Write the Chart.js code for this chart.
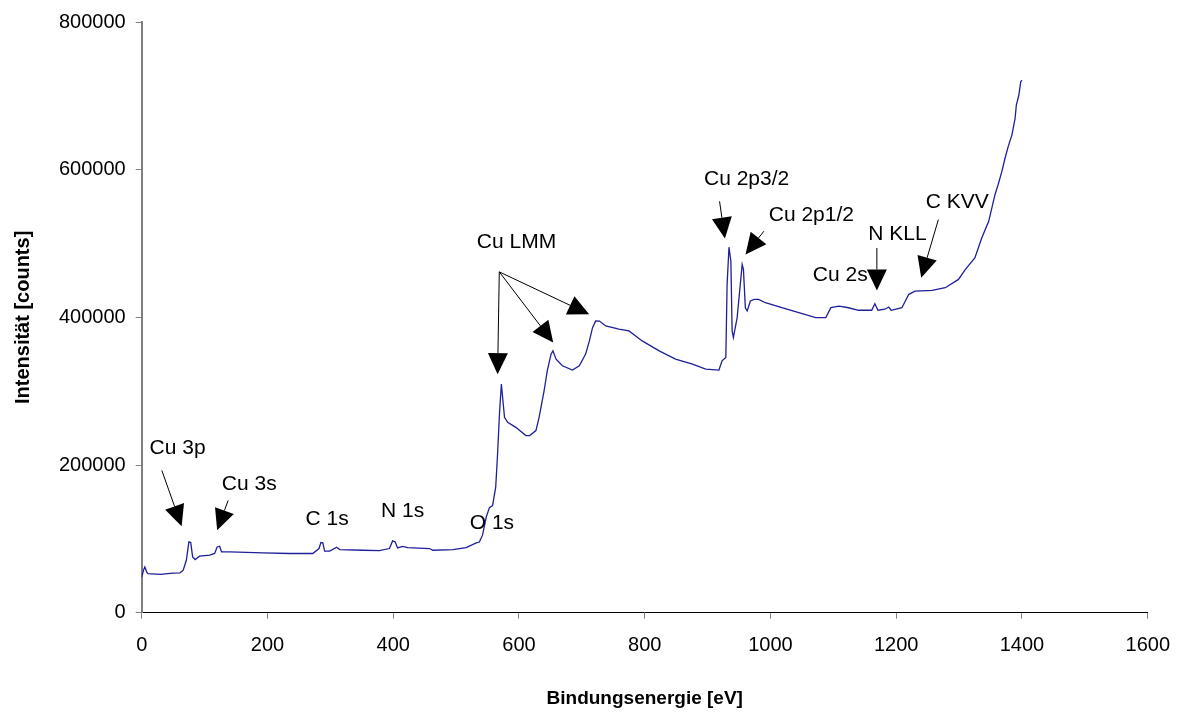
<!DOCTYPE html>
<html>
<head>
<meta charset="utf-8">
<script src="https://cdn.jsdelivr.net/npm/chart.js@4"></script>
<style>
  html, body { margin: 0; padding: 0; background: #fff; }
  #wrap { width: 1185px; height: 718px; }
</style>
</head>
<body>
<div id="wrap"><canvas id="xps"></canvas></div>
<script>
/* ---------- Spektrum ---------- */
const energy = [
  0, 3, 5, 8, 10, 30, 49, 61, 66, 71, 75, 78, 81, 85, 92, 108, 116, 120, 124, 127,
  140, 193, 235, 272, 282, 285, 288, 291, 299, 310, 315, 352, 378, 394, 399, 403, 407, 415, 423, 458,
  463, 495, 516, 532, 537, 542, 548, 553, 558, 563, 566, 569, 572, 577, 582, 595, 611, 617, 627, 632,
  640, 645, 651, 654, 659, 669, 685, 696, 706, 712, 717, 722, 728, 738, 759, 775, 796, 823, 849, 876,
  897, 918, 923, 929, 931, 934, 937, 939, 941, 947, 952, 955, 957, 960, 963, 968, 974, 981, 992, 1018,
  1045, 1072, 1088, 1096, 1109, 1124, 1140, 1161, 1166, 1171, 1182, 1188, 1192, 1209, 1220, 1230, 1257, 1278, 1299, 1310,
  1325, 1336, 1347, 1352, 1357, 1362, 1368, 1373, 1378, 1384, 1389, 1391, 1395, 1398, 1400
];
const counts = [
  48000, 58000, 62000, 55000, 53000, 52000, 53500, 54000, 57600, 71000, 95800, 95000, 75600, 72000, 76500, 77900, 80200, 89000, 90000, 82300,
  82300, 81000, 80200, 80200, 86900, 95000, 94500, 83300, 83500, 88700, 85500, 84600, 84200, 86900, 97200, 96000, 87700, 89800, 88100, 86900,
  84600, 85500, 88100, 94600, 95700, 105000, 129600, 142300, 145000, 170100, 215200, 269600, 309700, 264600, 257800, 251000, 239900, 240000, 246600, 264600,
  300600, 327600, 350200, 354600, 343400, 334400, 328600, 334400, 350200, 368100, 386000, 395100, 395000, 388400, 384000, 381600, 368100, 354600, 343400, 336700,
  330000, 328600, 341100, 345600, 444600, 495000, 476000, 381600, 372600, 399600, 445000, 471600, 465000, 413000, 408600, 422100, 424400, 424400, 419800, 413100,
  406300, 399600, 399600, 413100, 415300, 413000, 409600, 409600, 418500, 409600, 411000, 414000, 409600, 413000, 431200, 435600, 436500, 440100, 451400, 464900,
  480500, 507500, 530000, 548000, 566100, 579600, 597600, 615500, 631300, 647100, 669500, 687600, 701100, 719100, 721400
];

const xTicks = [0, 200, 400, 600, 800, 1000, 1200, 1400, 1600];
const yTicks = [0, 200000, 400000, 600000, 800000];

/* ---------- Beschriftungen (in Datenkoordinaten) ---------- */
const peakLabels = [
  { text: "Cu 3p",    x: 57,   y: 223000 },
  { text: "Cu 3s",    x: 171,  y: 173400 },
  { text: "C 1s",     x: 295,  y: 126200 },
  { text: "N 1s",     x: 415,  y: 138000 },
  { text: "O 1s",     x: 557,  y: 121800 },
  { text: "Cu LMM",   x: 596,  y: 501600 },
  { text: "Cu 2p3/2", x: 962,  y: 587400 },
  { text: "Cu 2p1/2", x: 1065, y: 537900 },
  { text: "Cu 2s",    x: 1111, y: 456900 },
  { text: "N KLL",    x: 1202, y: 513200 },
  { text: "C KVV",    x: 1297, y: 556400 }
];

const peakArrows = [
  { x0: 32,   y0: 192700, x1: 63.5,  y1: 117100 },
  { x0: 137.5, y0: 152100, x1: 120,  y1: 111600 },
  { x0: 568.7, y0: 461600, x1: 566,  y1: 323100 },
  { x0: 568.7, y0: 461600, x1: 654.4, y1: 365800 },
  { x0: 568.7, y0: 461600, x1: 711.6, y1: 404100 },
  { x0: 919,  y0: 557100, x1: 927.5, y1: 506700 },
  { x0: 989.4, y0: 516600, x1: 960.3, y1: 485100 },
  { x0: 1169.2, y0: 494000, x1: 1169.2, y1: 436500 },
  { x0: 1267, y0: 532400, x1: 1239.7, y1: 453500 }
];

const FONT = "'Liberation Sans', Arial, sans-serif";

const peakLabelPlugin = {
  id: 'peakLabels',
  afterDatasetsDraw(chart) {
    const { ctx, scales } = chart;
    const x = scales.x, y = scales.y;
    ctx.save();
    ctx.strokeStyle = '#000';
    ctx.fillStyle = '#000';
    ctx.lineWidth = 1;

    // Pfeile
    const headLen = 21, headHalf = 10;
    peakArrows.forEach(a => {
      const sx = x.getPixelForValue(a.x0), sy = y.getPixelForValue(a.y0);
      const tx = x.getPixelForValue(a.x1), ty = y.getPixelForValue(a.y1);
      const len = Math.hypot(tx - sx, ty - sy);
      const ux = (tx - sx) / len, uy = (ty - sy) / len;
      const bx = tx - ux * headLen, by = ty - uy * headLen;

      ctx.beginPath();
      ctx.moveTo(sx, sy);
      ctx.lineTo(bx, by);
      ctx.stroke();

      ctx.beginPath();
      ctx.moveTo(tx, ty);
      ctx.lineTo(bx - uy * headHalf, by + ux * headHalf);
      ctx.lineTo(bx + uy * headHalf, by - ux * headHalf);
      ctx.closePath();
      ctx.fill();
    });

    // Texte
    ctx.font = '21px ' + FONT;
    ctx.textAlign = 'center';
    ctx.textBaseline = 'middle';
    peakLabels.forEach(l => {
      ctx.fillText(l.text, x.getPixelForValue(l.x), y.getPixelForValue(l.y));
    });
    ctx.restore();
  }
};

new Chart(document.getElementById('xps'), {
  type: 'line',
  data: {
    datasets: [{
      data: energy.map((e, i) => ({ x: e, y: counts[i] })),
      borderColor: '#1f1f99',
      borderWidth: 1.3,
      pointRadius: 0,
      tension: 0,
      fill: false
    }]
  },
  options: {
    responsive: true,
    maintainAspectRatio: false,
    animation: false,
    layout: { padding: { left: 0, top: 20, right: 35.5, bottom: 0 } },
    plugins: {
      legend: { display: false },
      tooltip: { enabled: false }
    },
    scales: {
      x: {
        type: 'linear',
        min: 0,
        max: 1600,
        afterBuildTicks: s => { s.ticks = xTicks.map(v => ({ value: v })); },
        afterFit: s => { s.height = 105.3; },
        ticks: {
          color: '#000',
          padding: 15,
          maxRotation: 0,
          font: { family: FONT, size: 20 },
          callback: v => String(v)
        },
        grid: { drawOnChartArea: false, tickLength: 6, color: '#808080' },
        border: { color: '#000', width: 1 },
        title: {
          display: true,
          text: 'Bindungsenergie [eV]',
          color: '#000',
          font: { family: FONT, size: 19, weight: 'bold' },
          padding: { top: 0, bottom: 7.6 }
        }
      },
      y: {
        type: 'linear',
        min: 0,
        max: 800000,
        afterBuildTicks: s => { s.ticks = yTicks.map(v => ({ value: v })); },
        afterFit: s => { s.width = 141.7; },
        ticks: {
          color: '#000',
          padding: 10,
          font: { family: FONT, size: 20 },
          callback: v => String(v)
        },
        grid: { drawOnChartArea: false, tickLength: 6, color: '#808080' },
        border: { color: '#808080', width: 2 },
        title: {
          display: true,
          text: 'Intensität [counts]',
          color: '#000',
          font: { family: FONT, size: 20, weight: 'bold' },
          padding: { top: 11.5, bottom: 0 }
        }
      }
    }
  },
  plugins: [peakLabelPlugin]
});
</script>
</body>
</html>
